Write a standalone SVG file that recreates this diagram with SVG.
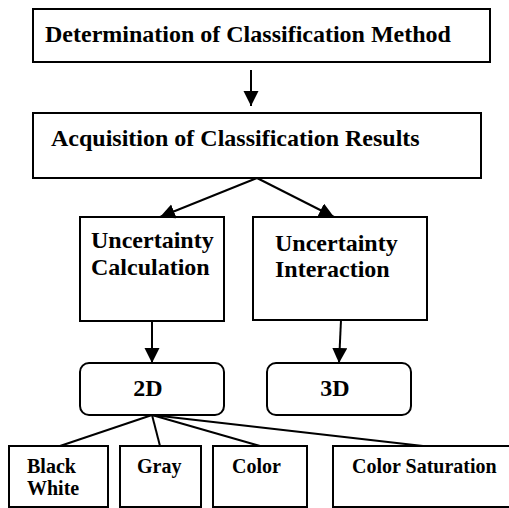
<svg xmlns="http://www.w3.org/2000/svg" width="509" height="508" viewBox="0 0 509 508">
<style>
.box{fill:#fff;stroke:#000;stroke-width:2}
.t{font-family:'Liberation Serif','Times New Roman','Noto Serif','DejaVu Serif',serif;font-weight:700;fill:#000}
.big{font-size:24px}
.small{font-size:20px}
.ln{stroke:#000;stroke-width:2;fill:none}
</style>
<defs>
<marker id="ah" markerUnits="userSpaceOnUse" markerWidth="16" markerHeight="16" refX="15" refY="7.5" orient="auto">
<path d="M0,0 L15,7.5 L0,15 z" fill="#000"/>
</marker>
</defs>
<rect width="509" height="508" fill="#fff"/>
<g id="n-determination">
<rect class="box" x="33" y="9" width="457" height="53"/>
<text class="t big" x="45" y="42">Determination of Classification Method</text>
</g>
<g id="n-acquisition">
<rect class="box" x="33" y="113" width="448" height="65"/>
<text class="t big" x="51" y="146">Acquisition of Classification Results</text>
</g>
<g id="n-calc">
<rect class="box" x="80" y="217" width="144" height="104"/>
<text class="t big" x="91" y="248">Uncertainty</text>
<text class="t big" x="91" y="275">Calculation</text>
</g>
<g id="n-inter">
<rect class="box" x="253" y="217" width="174" height="103"/>
<text class="t big" x="275" y="251">Uncertainty</text>
<text class="t big" x="275" y="277">Interaction</text>
</g>
<g id="n-2d">
<rect class="box" x="80" y="363" width="144" height="52" rx="9"/>
<text class="t big" x="148" y="396" text-anchor="middle">2D</text>
</g>
<g id="n-3d">
<rect class="box" x="267" y="363" width="144" height="52" rx="9"/>
<text class="t big" x="335" y="396" text-anchor="middle">3D</text>
</g>
<g id="n-bw">
<rect class="box" x="9" y="446" width="99" height="61"/>
<text class="t small" x="27" y="473">Black</text>
<text class="t small" x="27" y="495">White</text>
</g>
<g id="n-gray">
<rect class="box" x="120" y="446" width="81" height="61"/>
<text class="t small" x="137" y="473">Gray</text>
</g>
<g id="n-color">
<rect class="box" x="213" y="446" width="94" height="61"/>
<text class="t small" x="232" y="473">Color</text>
</g>
<g id="n-sat">
<rect class="box" x="333" y="446" width="180" height="61"/>
<text class="t small" x="352" y="473">Color Saturation</text>
</g>
<g id="connectors">
<line class="ln" x1="251" y1="70" x2="251" y2="106" marker-end="url(#ah)"/>
<line class="ln" x1="257" y1="178" x2="160" y2="217" marker-end="url(#ah)"/>
<line class="ln" x1="257" y1="178" x2="334" y2="217" marker-end="url(#ah)"/>
<line class="ln" x1="152" y1="321" x2="152" y2="363" marker-end="url(#ah)"/>
<line class="ln" x1="341" y1="320" x2="339" y2="363" marker-end="url(#ah)"/>
<line class="ln" x1="152" y1="415" x2="60" y2="446"/>
<line class="ln" x1="152" y1="415" x2="160" y2="446"/>
<line class="ln" x1="152" y1="415" x2="260" y2="446"/>
<line class="ln" x1="152" y1="415" x2="423" y2="446"/>
</g>
</svg>
